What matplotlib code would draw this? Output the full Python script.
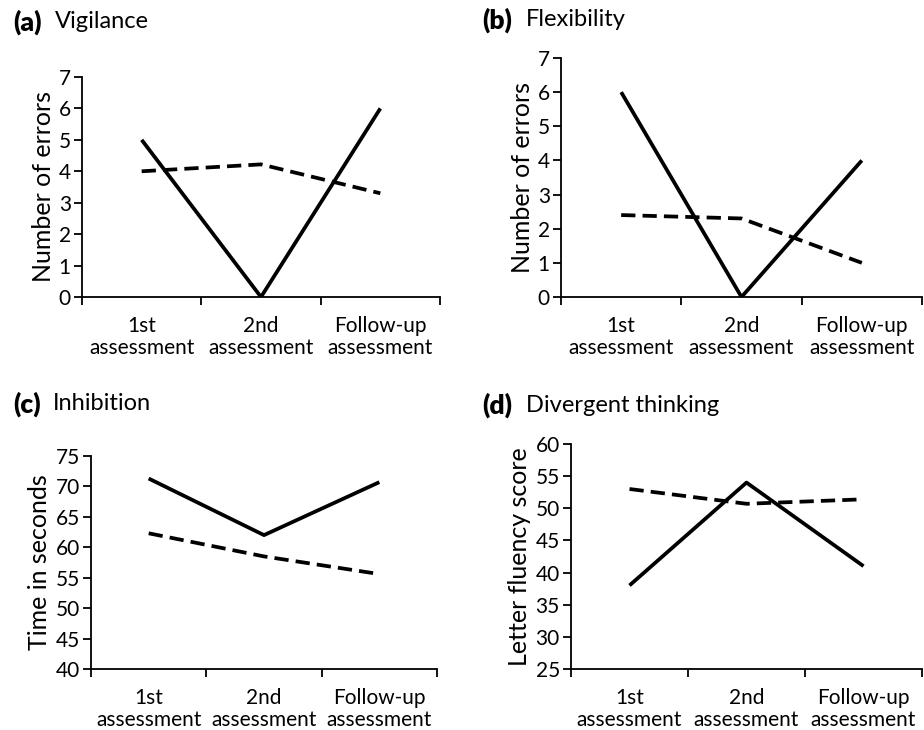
import numpy as np
import matplotlib.pyplot as plt

plt.rcParams['font.family'] = ['Lato', 'DejaVu Sans']

categories = ["1st\nassessment", "2nd\nassessment", "Follow-up\nassessment"]

vig_solid = [5, 0, 6]
vig_dashed = [4.0, 4.22, 3.3]
flex_solid = [6, 0, 4]
flex_dashed = [2.4, 2.3, 1.0]
inh_solid = [71.3, 62.0, 70.7]
inh_dashed = [62.3, 58.5, 55.6]
div_solid = [38, 54, 41]
div_dashed = [53, 50.7, 51.4]

W, H = 924, 730
fig = plt.figure(figsize=(W / 100, H / 100), dpi=100)


def px_axes(left, right, bottom, top):
    return fig.add_axes([left / W, 1 - bottom / H, (right - left) / W, (bottom - top) / H])


panels = [
    dict(box=(82, 440, 297, 77), solid=vig_solid, dashed=vig_dashed, ylim=(0, 7), step=1,
         ylabel="Number of errors", tag="(a)", name="Vigilance", tpos=(13, 22), gap=42),
    dict(box=(561, 922, 297, 58), solid=flex_solid, dashed=flex_dashed, ylim=(0, 7), step=1,
         ylabel="Number of errors", tag="(b)", name="Flexibility", tpos=(482, 20), gap=44),
    dict(box=(91, 437, 669, 456), solid=inh_solid, dashed=inh_dashed, ylim=(40, 75), step=5,
         ylabel="Time in seconds", tag="(c)", name="Inhibition", tpos=(13, 404), gap=40),
    dict(box=(571, 922, 669, 444), solid=div_solid, dashed=div_dashed, ylim=(25, 60), step=5,
         ylabel="Letter fluency score", tag="(d)", name="Divergent thinking", tpos=(482, 405), gap=44),
]

for p in panels:
    ax = px_axes(*p["box"])
    x = np.arange(len(categories))
    ax.plot(x, p["solid"], color="black", lw=2.7, solid_capstyle="butt")
    ax.plot(x, p["dashed"], color="black", lw=2.7, dashes=(3.8, 1.9))
    ax.set_xlim(-0.5, len(categories) - 0.5)
    ax.set_ylim(*p["ylim"])
    ax.set_yticks(np.arange(p["ylim"][0], p["ylim"][1] + 0.1, p["step"]))
    ax.set_xticks(np.arange(-0.5, len(categories)))
    ax.set_xticklabels([])
    ax.set_xticks(x, minor=True)
    ax.set_xticklabels(categories, minor=True, fontsize=15, linespacing=1.1)
    ax.tick_params(axis="x", which="minor", length=0, pad=14)
    ax.tick_params(axis="x", which="major", length=6, width=1.3, direction="out")
    ax.tick_params(axis="y", length=6, width=1.3, labelsize=15, pad=2)
    for s in ["top", "right"]:
        ax.spines[s].set_visible(False)
    for s in ["left", "bottom"]:
        ax.spines[s].set_linewidth(1.3)
    ax.set_ylabel(p["ylabel"], fontsize=18, labelpad=3)
    tx, ty = p["tpos"]
    fig.text(tx / W, 1 - ty / H, p["tag"], fontsize=19, fontweight="heavy", va="center")
    fig.text((tx + p["gap"]) / W, 1 - ty / H, p["name"], fontsize=17, va="center")

fig.savefig("out.png", dpi=100)
